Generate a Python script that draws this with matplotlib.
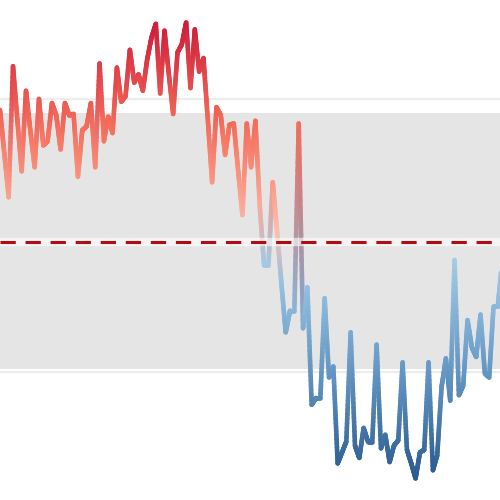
import numpy as np
import matplotlib
matplotlib.use('Agg')
import matplotlib.pyplot as plt
from matplotlib.collections import LineCollection
from matplotlib.colors import LinearSegmentedColormap, to_rgb

# daily values
values = [0.92, 0.60, 0.28, 1.24, 0.85, 0.47, 1.06, 0.77, 0.50, 1.00,
          0.66, 0.69, 0.97, 0.88, 0.63, 0.97, 0.88, 0.89, 0.43, 0.77,
          0.80, 0.97, 0.50, 1.26, 0.69, 0.87, 0.75, 1.23, 0.98, 1.02,
          1.36, 1.12, 1.18, 1.06, 1.29, 1.45, 1.55, 1.04, 1.50, 1.18,
          0.89, 1.34, 1.40, 1.56, 1.08, 1.51, 1.20, 1.30, 0.85, 0.39,
          0.94, 0.88, 0.59, 0.81, 0.82, 0.48, 0.15, 0.82, 0.50, 0.84,
          0.22, -0.22, -0.22, 0.39, 0.03, -0.35, -0.71, -0.55, -0.55, 0.82,
          -0.68, -0.38, -1.24, -1.19, -1.19, -0.46, -1.04, -0.96, -1.67, -1.59,
          -1.51, -0.71, -1.54, -1.63, -1.41, -1.51, -1.51, -0.80, -1.56, -1.46,
          -1.66, -1.54, -1.50, -0.93, -1.57, -1.67, -1.78, -1.59, -1.57, -0.93,
          -1.72, -1.61, -1.11, -0.90, -1.21, -0.18, -1.17, -1.10, -0.62, -0.82,
          -0.89, -0.58, -1.01, -1.04, -0.52, -0.52, -0.18]
mean_val = -0.05
band_lo, band_hi = -0.98, 0.90

reds = LinearSegmentedColormap.from_list('r', ['#fdc5b3', '#f7735d', '#cf1c3a'])
blues = LinearSegmentedColormap.from_list('b', ['#b0d4ec', '#6a9ecb', '#2a5a8e'])

x = np.arange(len(values))
y = np.array(values)
vmax, vmin = y.max(), y.min()

def colorFor(v):
    if v >= mean_val:
        return np.array(reds((v - mean_val) / (vmax - mean_val))[:3])
    return np.array(blues((mean_val - v) / (mean_val - vmin))[:3])

cols = [colorFor(v) for v in y]

# split each segment so the colour blends from one point to the next
segs = []
segCols = []
nsub = 24
for i in range(len(x) - 1):
    for k in range(nsub):
        a = k / nsub
        b = (k + 1) / nsub
        x0 = x[i] + (x[i+1] - x[i]) * a
        x1 = x[i] + (x[i+1] - x[i]) * b
        y0 = y[i] + (y[i+1] - y[i]) * a
        y1 = y[i] + (y[i+1] - y[i]) * b
        segs.append([(x0, y0), (x1, y1)])
        m = (a + b) / 2
        segCols.append(cols[i] * (1 - m) + cols[i+1] * m)

fig = plt.figure(figsize=(5, 5), dpi=100)
ax = fig.add_axes([0, 0, 1, 1])

ax.set_yticks([-1, 0, 1])
ax.set_xticks([])
ax.grid(axis='y', color='#ededed', linewidth=1.6)
ax.set_axisbelow(True)
ax.tick_params(left=False, labelleft=False)
for s in ax.spines.values():
    s.set_visible(False)

ax.axhspan(band_lo, band_hi, color='#e5e5e5', zorder=1, linewidth=0)

lc = LineCollection(segs, colors=segCols, linewidths=3.3, capstyle='round',
                    joinstyle='round', zorder=3)
ax.add_collection(lc)

ax.axhline(mean_val, color='white', alpha=0.6, linewidth=6, zorder=4)
ax.axhline(mean_val, color='#b30d14', linewidth=2.2, linestyle=(0, (5, 3.2)), zorder=5)

ax.set_xlim(0, 115.5)
ax.set_ylim(-1.938, 1.725)

fig.savefig('out.png', dpi=100)
